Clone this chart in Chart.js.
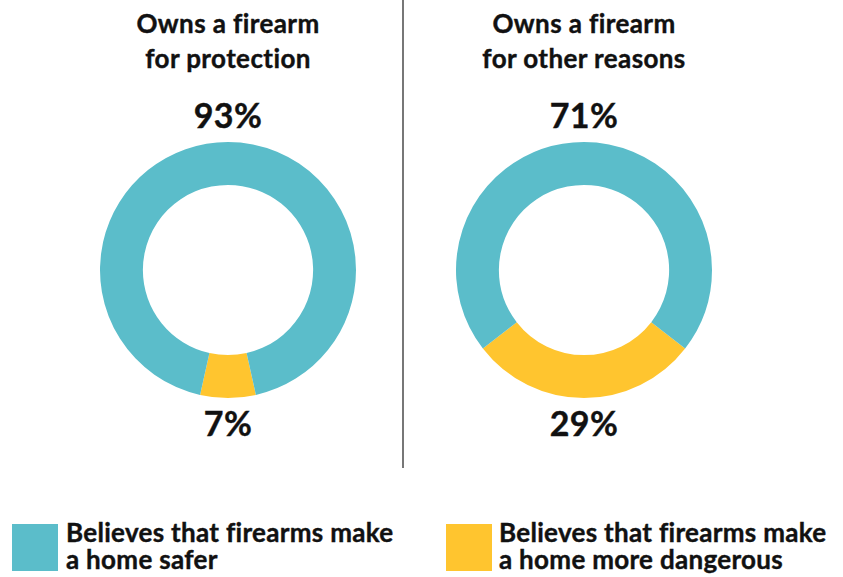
<!DOCTYPE html>
<html>
<head>
<meta charset="utf-8">
<script src="https://cdn.jsdelivr.net/npm/chart.js@4"></script>
<style>
  body { margin: 0; background: #fff; font-family: Lato, "Open Sans", sans-serif; font-weight: 700; color: #111; }
  #wrap { position: relative; width: 843px; height: 577px; overflow: hidden; }
  .title { position: absolute; top: 6px; width: 300px; text-align: center; font-size: 26px; line-height: 35px; letter-spacing: 0.4px; -webkit-text-stroke: 0.4px #111; }
  .pct { position: absolute; width: 200px; text-align: center; font-size: 34px; line-height: 36px; letter-spacing: 0.4px; -webkit-text-stroke: 0.4px #111; }
  canvas { position: absolute; }
  #divider { position: absolute; left: 402px; top: 0; width: 2px; height: 468px; background: #777; }
  .key { position: absolute; top: 524px; width: 46px; height: 47px; }
  .keytext { position: absolute; top: 519px; font-size: 26px; line-height: 27px; letter-spacing: 0.3px; -webkit-text-stroke: 0.4px #111; white-space: nowrap; }
</style>
</head>
<body>
<div id="wrap">
  <div class="title" style="left:78px">Owns a firearm<br>for protection</div>
  <div class="title" style="left:434px">Owns a firearm<br>for other reasons</div>
  <div class="pct" id="topL" style="left:128px; top:97px"></div>
  <div class="pct" id="botL" style="left:128px; top:405px"></div>
  <div class="pct" id="topR" style="left:484px; top:97px"></div>
  <div class="pct" id="botR" style="left:484px; top:405px"></div>
  <canvas id="chartL" width="256" height="256" style="left:100px; top:142px"></canvas>
  <canvas id="chartR" width="256" height="256" style="left:456px; top:142px"></canvas>
  <div id="divider"></div>
  <div class="key" style="left:12px; background:#5bbdca"></div>
  <div class="keytext" style="left:66px" id="legSafe"></div>
  <div class="key" style="left:446px; background:#ffc52f"></div>
  <div class="keytext" style="left:499px" id="legDanger"></div>
</div>
<script>
const groups = ['for protection', 'for other reasons'];
const saferPct = [93, 71];
const dangerPct = [7, 29];
const seriesLabels = ['Believes that firearms make a home safer', 'Believes that firearms make a home more dangerous'];
const colors = ['#5bbdca', '#ffc52f'];

document.getElementById('legSafe').innerHTML = 'Believes that firearms make<br>a home safer';
document.getElementById('legDanger').innerHTML = 'Believes that firearms make<br>a home more dangerous';

function makeDonut(id, i) {
  // yellow slice goes first and is centred on the bottom of the ring
  const rot = 180 - dangerPct[i] * 3.6 / 2;
  return new Chart(document.getElementById(id), {
    type: 'doughnut',
    data: {
      labels: [seriesLabels[1], seriesLabels[0]],
      datasets: [{
        data: [dangerPct[i], saferPct[i]],
        backgroundColor: [colors[1], colors[0]],
        borderWidth: 0
      }]
    },
    options: {
      responsive: false,
      animation: false,
      cutout: '66.5%',
      rotation: rot,
      layout: { padding: 0 },
      plugins: {
        legend: { display: false },
        tooltip: { enabled: false }
      }
    }
  });
}

makeDonut('chartL', 0);
makeDonut('chartR', 1);

document.getElementById('topL').textContent = saferPct[0] + '%';
document.getElementById('botL').textContent = dangerPct[0] + '%';
document.getElementById('topR').textContent = saferPct[1] + '%';
document.getElementById('botR').textContent = dangerPct[1] + '%';
</script>
</body>
</html>
